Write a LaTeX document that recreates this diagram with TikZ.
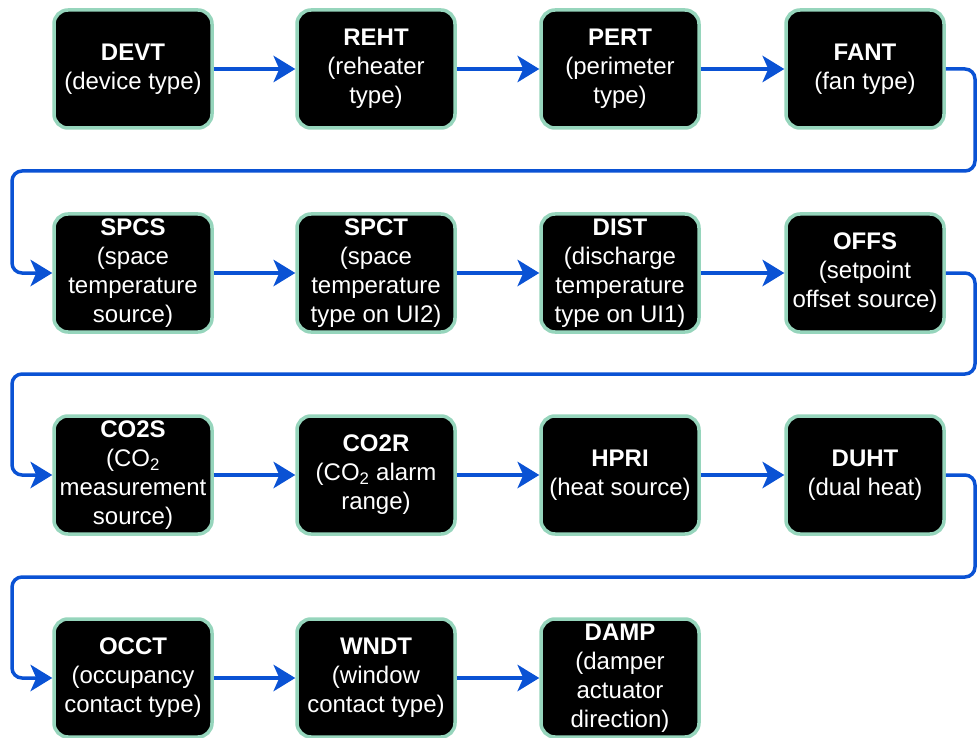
\documentclass[tikz,border=0pt]{standalone}
\usepackage{fontspec}
\setmainfont{Liberation Sans}
\usetikzlibrary{arrows.meta}
\definecolor{boxline}{RGB}{150,213,188}
\definecolor{flowblue}{RGB}{10,82,212}

\begin{document}
\begin{tikzpicture}[x=1pt,y=-1pt,
  param/.style={rectangle,rounded corners=14pt,draw=boxline,line width=3.5pt,fill=black,
    text=white,minimum width=158pt,minimum height=118pt,inner sep=0pt,align=center,
    font=\fontsize{24}{29}\selectfont},
  flow/.style={draw,color=flowblue,line width=3.5pt,rounded corners=10pt,
    -{Stealth[length=22pt,width=27pt,inset=6pt,line width=0pt]}}]

  \useasboundingbox (0,0) rectangle (977,738);

  \node[param] (devt) at (133,69) {\textbf{DEVT}\\(device type)};
  \node[param] (reht) at (376,69) {\textbf{REHT}\\(reheater\\type)};
  \node[param] (pert) at (620,69) {\textbf{PERT}\\(perimeter\\type)};
  \node[param] (fant) at (865,69) {\textbf{FANT}\\(fan type)};

  \node[param] (spcs) at (133,273) {\textbf{SPCS}\\(space\\temperature\\source)};
  \node[param] (spct) at (376,273) {\textbf{SPCT}\\(space\\temperature\\type on UI2)};
  \node[param] (dist) at (620,273) {\textbf{DIST}\\(discharge\\temperature\\type on UI1)};
  \node[param] (offs) at (865,273) {\textbf{OFFS}\\(setpoint\\offset source)};

  \node[param] (co2s) at (133,475) {\textbf{CO2S}\\(CO\textsubscript{2}\\measurement\\source)};
  \node[param] (co2r) at (376,475) {\textbf{CO2R}\\(CO\textsubscript{2} alarm\\range)};
  \node[param] (hpri) at (620,475) {\textbf{HPRI}\\(heat source)};
  \node[param] (duht) at (865,475) {\textbf{DUHT}\\(dual heat)};

  \node[param] (occt) at (133,678) {\textbf{OCCT}\\(occupancy\\contact type)};
  \node[param] (wndt) at (376,678) {\textbf{WNDT}\\(window\\contact type)};
  \node[param] (damp) at (620,678) {\textbf{DAMP}\\(damper\\actuator\\direction)};

  \path[flow]
   (devt) edge (reht)
   (reht) edge (pert)
   (pert) edge (fant)
   (spcs) edge (spct)
   (spct) edge (dist)
   (dist) edge (offs)
   (co2s) edge (co2r)
   (co2r) edge (hpri)
   (hpri) edge (duht)
   (occt) edge (wndt)
   (wndt) edge (damp);

  % row to row
  \draw[flow] (fant.east) -| (975,171) -| (12,273) -- (spcs.west);
  \draw[flow] (offs.east) -| (975,374) -| (12,475) -- (co2s.west);
  \draw[flow] (duht.east) -| (975,577) -| (12,678) -- (occt.west);
\end{tikzpicture}
\end{document}
